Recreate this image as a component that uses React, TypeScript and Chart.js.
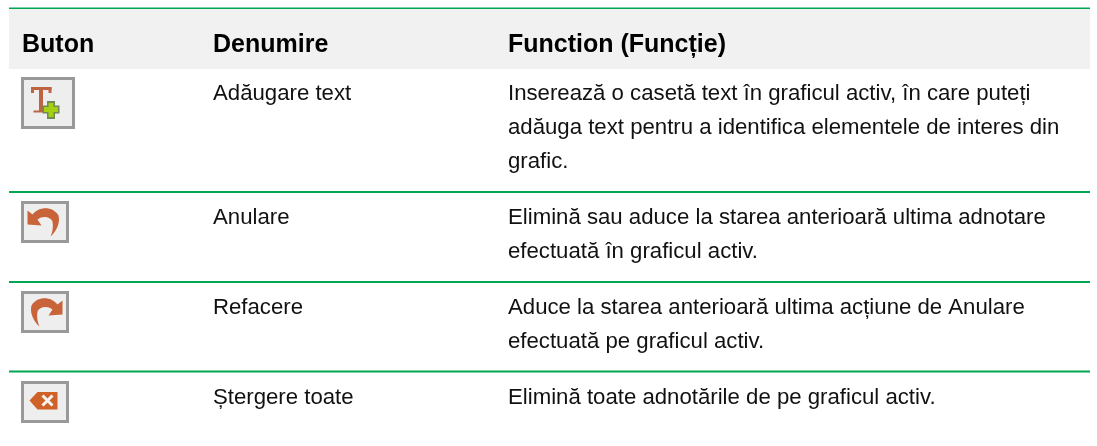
import { useEffect, useRef } from "react";
import Chart from "chart.js/auto";

const columnX = [22, 213, 508];
const headerLabels = ["Buton", "Denumire", "Function (Funcție)"];
const headerBaseline = 51.6;
const headerBand = [9, 69];
const tableX = [9, 1090];
const ruleY = [8, 192, 282, 371.5];
const ruleHeaderY = 8.5;
const names = ["Adăugare text", "Anulare", "Refacere", "Ștergere toate"];
const nameBaseline = [100, 224, 314, 404];
const descLines = [
  "Inserează o casetă text în graficul activ, în care puteți",
  "adăuga text pentru a identifica elementele de interes din",
  "grafic.",
  "Elimină sau aduce la starea anterioară ultima adnotare",
  "efectuată în graficul activ.",
  "Aduce la starea anterioară ultima acțiune de Anulare",
  "efectuată pe graficul activ.",
  "Elimină toate adnotările de pe graficul activ.",
];
const descBaseline = [100, 134, 168, 224, 258, 314, 348, 404];
const iconKinds = ["add", "undo", "redo", "clear"];
const iconLeft = [22.5, 22.5, 22.5, 22.5];
const iconTop = [78.5, 202.5, 292.5, 382.5];
const iconRight = [73.5, 67.5, 67.5, 67.5];
const iconBottom = [127.5, 241.5, 331.5, 421.5];

const FONT = '"Liberation Sans", Arial, sans-serif';
const ORANGE = "#c8633a";

function drawIcon(ctx: CanvasRenderingContext2D, kind: string, x: number, y: number) {
  ctx.save();
  ctx.translate(x, y);
  ctx.filter = "blur(0.7px)";
  if (kind === "add") {
    ctx.fillStyle = "#bd6442";
    ctx.fillRect(8.5, 8.5, 20.5, 3);
    ctx.fillRect(8.5, 8.5, 3, 6);
    ctx.fillRect(26, 8.5, 3, 6);
    ctx.fillRect(16.5, 9, 4, 24);
    ctx.fillRect(11, 32, 14, 2);
    ctx.fillStyle = "#6f8a55";
    ctx.fillRect(24.5, 22.5, 8, 18);
    ctx.fillRect(20, 27, 17, 8);
    ctx.fillStyle = "#a4d012";
    ctx.fillRect(26, 24.5, 5, 14);
    ctx.fillRect(21.5, 28.5, 14, 5);
  } else if (kind === "undo" || kind === "redo") {
    if (kind === "redo") {
      ctx.translate(45, 0);
      ctx.scale(-1, 1);
    }
    ctx.fillStyle = ORANGE;
    const p = new Path2D();
    p.moveTo(5, 8);
    p.lineTo(5, 22);
    p.lineTo(19, 23);
    p.lineTo(15, 17);
    p.bezierCurveTo(20, 13, 28, 14, 30, 19);
    p.bezierCurveTo(31, 24, 30, 30, 28, 34);
    p.bezierCurveTo(34, 29, 38, 20, 36, 13);
    p.bezierCurveTo(31, 4, 17, 3, 10, 12);
    p.closePath();
    ctx.fill(p);
  } else {
    ctx.fillStyle = "#cf6228";
    const p = new Path2D();
    p.moveTo(7, 18);
    p.lineTo(15, 9.5);
    p.lineTo(35, 9.5);
    p.lineTo(35, 27);
    p.lineTo(15, 27);
    p.closePath();
    ctx.fill(p);
    ctx.strokeStyle = "#f7f3f0";
    ctx.lineWidth = 3;
    ctx.beginPath();
    ctx.moveTo(20, 13);
    ctx.lineTo(30, 23);
    ctx.moveTo(30, 13);
    ctx.lineTo(20, 23);
    ctx.stroke();
  }
  ctx.restore();
}

const tablePlugin = {
  id: "tableCells",
  afterDatasetsDraw(chart: any) {
    const { ctx, scales } = chart;
    const px = (v: number) => scales.x.getPixelForValue(v);
    const py = (v: number) => scales.y.getPixelForValue(v);
    ctx.save();
    ctx.textBaseline = "alphabetic";
    ctx.textAlign = "left";
    ctx.filter = "blur(0.35px)";
    ctx.fillStyle = "#000000";
    ctx.font = `bold 25px ${FONT}`;
    headerLabels.forEach((t, i) => ctx.fillText(t, px(columnX[i]), py(headerBaseline)));
    ctx.fillStyle = "#111111";
    ctx.font = `22.2px ${FONT}`;
    names.forEach((t, i) => ctx.fillText(t, px(columnX[1]), py(nameBaseline[i])));
    descLines.forEach((t, i) => ctx.fillText(t, px(columnX[2]), py(descBaseline[i])));
    ctx.filter = "none";
    iconKinds.forEach((k, i) => {
      const l = px(iconLeft[i]);
      const t = py(iconTop[i]);
      const w = px(iconRight[i]) - l;
      const h = py(iconBottom[i]) - t;
      ctx.fillStyle = "#eeeeee";
      ctx.fillRect(l, t, w, h);
      ctx.strokeStyle = "#999999";
      ctx.lineWidth = 3;
      ctx.strokeRect(l, t, w, h);
      drawIcon(ctx, k, l, t);
    });
    ctx.restore();
  },
};

export default function App() {
  const ref = useRef<HTMLCanvasElement>(null);
  useEffect(() => {
    document.body.style.margin = "0";
    const rules = ruleY.map((y, i) => ({
      type: "line" as const,
      label: `rule ${i}`,
      data: tableX.map((x) => ({ x, y: i === 0 ? ruleHeaderY : y })),
      borderColor: "#00a651",
      borderWidth: 2,
      pointRadius: 0,
      fill: false,
    }));
    const chart = new Chart(ref.current!, {
      type: "scatter",
      data: {
        datasets: [
          {
            type: "line",
            label: "header",
            data: tableX.map((x) => ({ x, y: headerBand[1] })),
            borderWidth: 0,
            pointRadius: 0,
            backgroundColor: "#f1f1f1",
            fill: { value: headerBand[0] },
          },
          ...rules,
        ] as any,
      },
      options: {
        animation: false,
        responsive: false,
        events: [],
        layout: { padding: 0 },
        plugins: { legend: { display: false }, tooltip: { enabled: false }, title: { display: false } },
        scales: {
          x: { type: "linear", min: 0, max: 1097, display: false },
          y: { type: "linear", min: 0, max: 446, reverse: true, display: false },
        },
      },
      plugins: [tablePlugin],
    });
    return () => chart.destroy();
  }, []);
  return (
    <canvas
      ref={ref}
      width={1097}
      height={446}
      style={{ display: "block", width: 1097, height: 446 }}
    />
  );
}
